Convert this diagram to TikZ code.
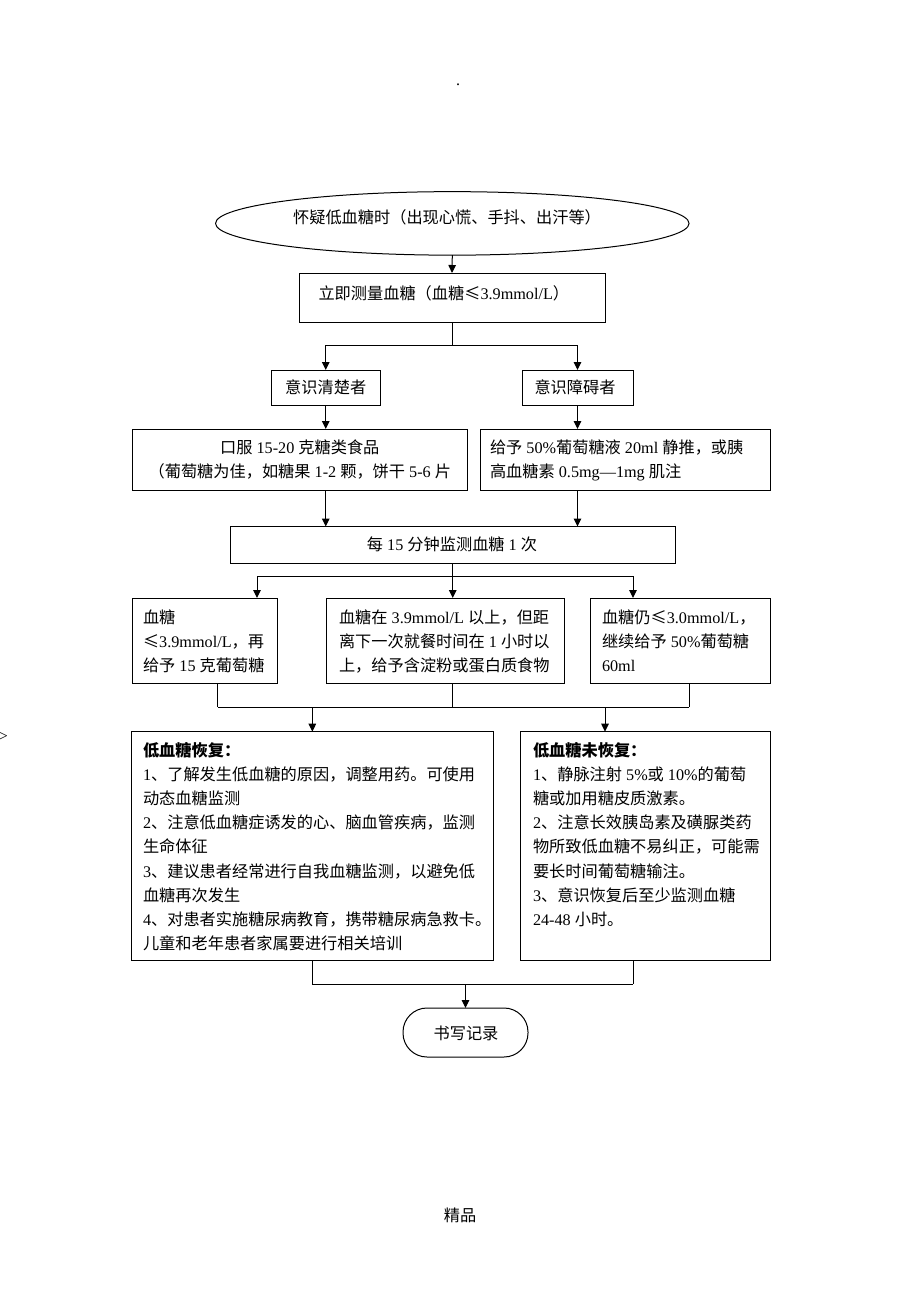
\documentclass[tikz,border=0pt]{standalone}
\usepackage{fontspec}
\setmainfont{Noto Sans CJK SC}
\newfontfamily\latfont{Liberation Serif}
\newcommand\latn[1]{{\latfont #1}}
\newcommand\tblock[2]{\parbox[t]{#1}{\raggedright #2}}
\newcommand\cblock[2]{\parbox[t]{#1}{\centering #2}}
\usetikzlibrary{arrows.meta,shapes.geometric,calc}
\begin{document}
\begin{tikzpicture}[x=1pt,y=-1pt,
  every node/.style={inner sep=0pt, outer sep=0pt},
  box/.style={draw, line width=1pt, inner sep=0pt},
  ln/.style={line width=1pt},
  arr/.style={line width=1pt, -{Triangle[length=8pt,width=7.5pt]}},
  txt/.style={font=\fontsize{16.2}{24}\selectfont},
  txtb/.style={font=\fontsize{16.2}{24.2}\selectfont},
]
\useasboundingbox (0,0) rectangle (920,1302);
\fill[white] (0,0) rectangle (920,1302);

% stray marks of the page
\node[font=\latfont\fontsize{16}{18}\selectfont, anchor=base] (dot) at (458,85) {.};
\node[font=\latfont\fontsize{16}{18}\selectfont] (gt) at (3.5,737) {>};
\node[txt, anchor=base] (jp) at (460,1221) {精品};

% shapes
\node[draw, ellipse, line width=1pt, minimum width=473.5pt, minimum height=63.5pt] (e) at (452.3,223.4) {};
\node[box, minimum width=306pt, minimum height=49pt] (b1) at (452,297.5) {};
\node[box, minimum width=108.5pt, minimum height=35pt] (c1) at (325.75,387.5) {};
\node[box, minimum width=111pt, minimum height=35pt] (c2) at (577.5,387.5) {};
\node[box, minimum width=334.4pt, minimum height=61pt] (o1) at (299.8,459.5) {};
\node[box, minimum width=290pt, minimum height=61pt] (g1) at (625,459.5) {};
\node[box, minimum width=445.5pt, minimum height=36.5pt] (m) at (452.75,544.75) {};
\node[box, minimum width=145.2pt, minimum height=85pt] (bA) at (205.2,640.5) {};
\node[box, minimum width=238pt, minimum height=85pt] (bB) at (445,640.5) {};
\node[box, minimum width=179.5pt, minimum height=85pt] (bC) at (680.25,640.5) {};
\node[box, minimum width=361.3pt, minimum height=228.3pt] (rL) at (312.35,845.85) {};
\node[box, minimum width=250pt, minimum height=228.3pt] (rR) at (645.7,845.85) {};
\node[box, rounded corners=24pt, minimum width=125pt, minimum height=49pt] (t) at (465.5,1032.5) {};

% texts
\node[txt, anchor=base] (et) at (447,223) {怀疑低血糖时（出现心慌、手抖、出汗等）};
\node[txt, anchor=base west] (b1t) at (318.5,299.5) {立即测量血糖（血糖≤\latn{3.9mmol/L}）};
\node[txt, anchor=base] (c1t) at (325.7,393.5) {意识清楚者};
\node[txt, anchor=base] (c2t) at (575,393.5) {意识障碍者};
\node[txt, anchor=base] (o1t) at (299.8,453.5) {\cblock{330pt}{口服\latn{ 15-20 }克糖类食品\\（葡萄糖为佳，如糖果\latn{ 1-2 }颗，饼干\latn{ 5-6 }片}};
\node[txt, anchor=base west] (g1t) at (490,453.5) {\tblock{290pt}{给予\latn{ 50\%}葡萄糖液\latn{ 20ml }静推，或胰\\高血糖素\latn{ 0.5mg—1mg }肌注}};
\node[txt, anchor=base] (mt) at (452,550.5) {每\latn{ 15 }分钟监测血糖\latn{ 1 }次};
\node[txt, anchor=base west] (At) at (143,623) {\tblock{200pt}{血糖\\≤\latn{3.9mmol/L}，再\\给予\latn{ 15 }克葡萄糖}};
\node[txt, anchor=base west] (Bt) at (339,623) {\tblock{260pt}{血糖在\latn{ 3.9mmol/L }以上，但距\\离下一次就餐时间在\latn{ 1 }小时以\\上，给予含淀粉或蛋白质食物}};
\node[txt, anchor=base west] (Ct) at (602,623) {\tblock{200pt}{血糖仍≤\latn{3.0mmol/L}，\\继续给予\latn{ 50\%}葡萄糖\\\latn{60ml}}};
\node[txtb, anchor=base west] (rLt) at (143,756) {\tblock{400pt}{{\bfseries 低血糖恢复：}\\
\latn{1}、了解发生低血糖的原因，调整用药。可使用\\
动态血糖监测\\
\latn{2}、注意低血糖症诱发的心、脑血管疾病，监测\\
生命体征\\
\latn{3}、建议患者经常进行自我血糖监测，以避免低\\
血糖再次发生\\
\latn{4}、对患者实施糖尿病教育，携带糖尿病急救卡。\\
儿童和老年患者家属要进行相关培训}};
\node[txtb, anchor=base west] (rRt) at (533,756) {\tblock{300pt}{{\bfseries 低血糖未恢复：}\\
\latn{1}、静脉注射\latn{ 5\%}或\latn{ 10\%}的葡萄\\
糖或加用糖皮质激素。\\
\latn{2}、注意长效胰岛素及磺脲类药\\
物所致低血糖不易纠正，可能需\\
要长时间葡萄糖输注。\\
\latn{3}、意识恢复后至少监测血糖\\
\latn{24-48 }小时。}};
\node[txt, anchor=base] (tt) at (466,1039) {书写记录};

% connectors
\draw[arr] (e.south) -- (b1.north);
\coordinate (j1) at ($(b1.south)+(0,23.5)$);
\draw[ln] (b1.south) -- (j1);
\draw[arr] (j1) -| (c1.north);
\draw[arr] (j1) -| (c2.north);
\draw[arr] (c1.south) -- (c1.south |- o1.north);
\draw[arr] (c2.south) -- (c2.south |- g1.north);
\draw[arr] (c1.south |- o1.south) -- (c1.south |- m.north);
\draw[arr] (c2.south |- g1.south) -- (c2.south |- m.north);

\coordinate (k) at ($(m.south)+(0,13)$);
\coordinate (kL) at (257,576);
\coordinate (kR) at (633,576);
\draw[ln] (m.south) -- (k);
\draw[ln] (kL) -- (kR);
\draw[arr] (kL) -- (kL |- bA.north);
\draw[arr] (k) -- (k |- bB.north);
\draw[arr] (kR) -- (kR |- bC.north);

\coordinate (qA) at (217.5,707);
\coordinate (qB) at (452.5,707);
\coordinate (qC) at (689,707);
\coordinate (qR) at (605,707);
\draw[ln] (qA |- bA.south) -- (qA);
\draw[ln] (qB |- bB.south) -- (qB);
\draw[ln] (qC |- bC.south) -- (qC);
\draw[ln] (qA) -- (qC);
\draw[arr] (rL.north |- qA) -- (rL.north);
\draw[arr] (qR) -- (qR |- rR.north);

\coordinate (u) at (465.5,984);
\coordinate (uR) at (633,984);
\draw[ln] (rL.south) -- (rL.south |- u);
\draw[ln] (uR |- rR.south) -- (uR);
\draw[ln] (rL.south |- u) -- (uR);
\draw[arr] (u) -- (t.north);
\end{tikzpicture}
\end{document}
